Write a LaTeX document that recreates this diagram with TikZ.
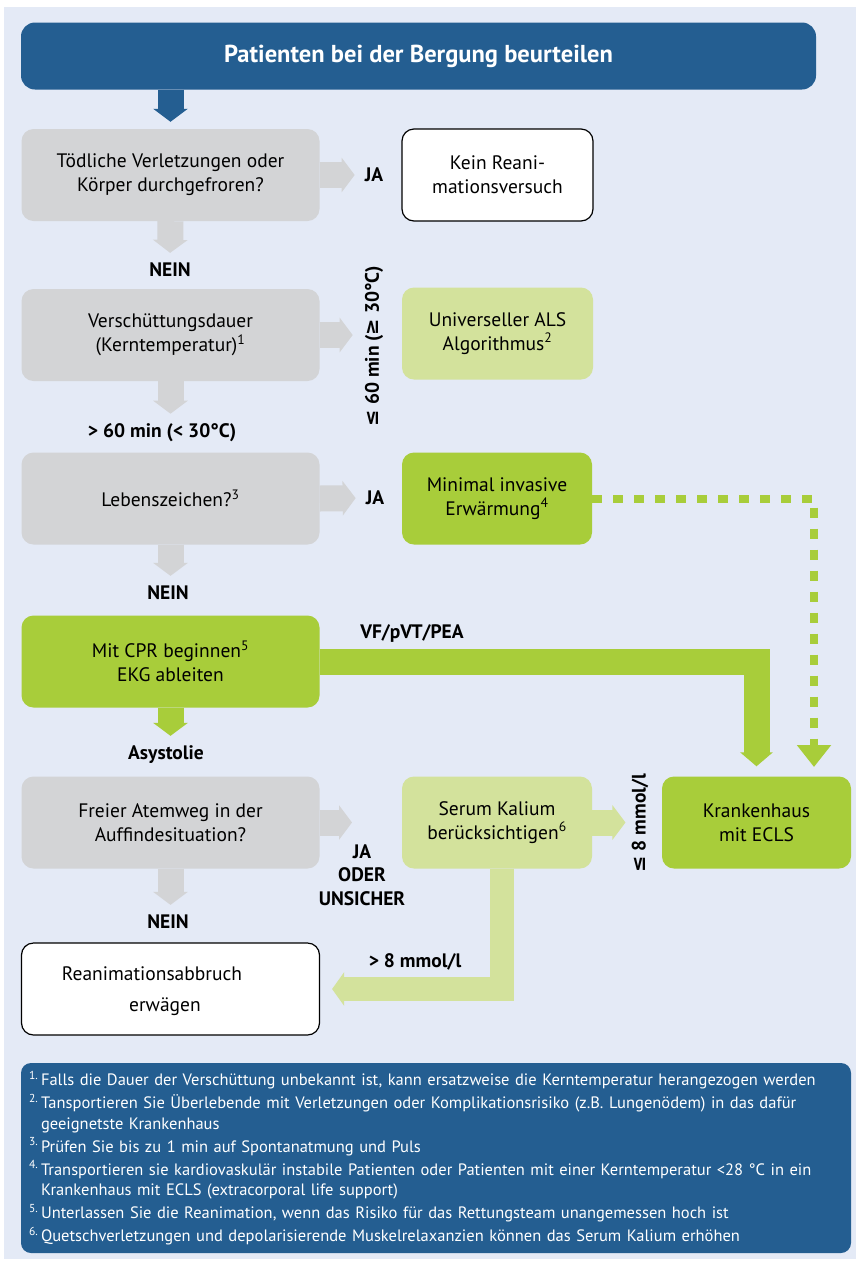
\documentclass[tikz,border=0pt]{standalone}
\usepackage{fontspec}
\setmainfont{PT Sans}
\newfontfamily\symfont{DejaVu Sans}
\usetikzlibrary{arrows.meta}

\definecolor{bgblue}{HTML}{E4EAF6}
\definecolor{darkblue}{HTML}{245E91}
\definecolor{boxgray}{HTML}{D3D4D6}
\definecolor{boxgreen}{HTML}{A8CD3A}
\definecolor{lightgreen}{HTML}{D3E29C}

\newcommand{\fnum}[1]{\textsuperscript{#1.}\,}
\newcommand{\lesym}{{\symfont\bfseries ≤}}
\newcommand{\gesym}{{\symfont\bfseries ≥}}

\begin{document}
\begin{tikzpicture}[x=1pt, y=-1pt,
  box/.style={rounded corners=12pt, minimum height=92pt, inner sep=0pt, align=center,
    font=\fontsize{19.5}{24}\selectfont},
  graybox/.style={box, fill=boxgray, minimum width=298pt},
  greenbox/.style={box, fill=boxgreen},
  lightbox/.style={box, fill=lightgreen},
  whitebox/.style={box, fill=white, draw=black, line width=1.2pt},
  lab/.style={inner sep=0pt, align=center, font=\fontsize{19.5}{23.5}\selectfont\bfseries},
  fatarrow/.style={line width=26pt, -{Triangle[length=13pt,width=34pt]}},
  tolab/.style={shorten >=10pt}]
  \useasboundingbox (0,0) rectangle (856,1262);
  \fill[bgblue] (4,7) rectangle (856,1259);

  % header
  \node[box, fill=darkblue, text=white, minimum width=795pt, minimum height=67pt,
    rounded corners=14pt, font=\fontsize{24.5}{26}\selectfont\bfseries] (title) at (418.5,56)
    {Patienten bei der Bergung beurteilen};

  % boxes
  \node[graybox] (q1) at (170.5,175) {Tödliche Verletzungen oder\\Körper durchgefroren?};
  \node[whitebox, minimum width=191pt] (kein) at (497.5,175) {Kein Reani-\\mationsversuch};
  \node[graybox] (q2) at (170.5,335) {Verschüttungsdauer\\(Kerntemperatur)\textsuperscript{1}};
  \node[lightbox, minimum width=191pt] (als) at (497.5,333.5) {Universeller ALS\\Algorithmus\textsuperscript{2}};
  \node[graybox] (q3) at (170.5,498.5) {Lebenszeichen?\textsuperscript{3}};
  \node[greenbox, minimum width=190pt] (warm) at (497,498.5) {Minimal invasive\\Erwärmung\textsuperscript{4}};
  \node[greenbox, minimum width=298pt] (cpr) at (170.5,661.5) {Mit CPR beginnen\textsuperscript{5}\\EKG ableiten};
  \node[graybox] (q4) at (170.5,822.5) {Freier Atemweg in der\\Auffindesituation?};
  \node[lightbox, minimum width=190pt] (kalium) at (497,822.5) {Serum Kalium\\berücksichtigen\textsuperscript{6}};
  \node[greenbox, minimum width=189pt] (ecls) at (756.5,822.5) {Krankenhaus\\mit ECLS};
  \node[whitebox, minimum width=298pt] (stop) at (170.5,989) {};
  \node[inner sep=0pt, align=center, font=\fontsize{19.5}{31}\selectfont] (stoptext) at (152,991)
    {Reanimationsabbruch\\\hspace*{26pt}erwägen};

  % labels
  \node[lab] (ja1) at (374,175) {JA};
  \node[lab] (nein1) at (170,270) {NEIN};
  \node[lab, rotate=90] (le60) at (374,346) {\lesym{} 60 min (\gesym{} 30°C)};
  \node[lab] (gt60) at (162,433) {> 60 min (< 30°C)};
  \node[lab] (ja2) at (375,498) {JA};
  \node[lab] (nein2) at (168,593) {NEIN};
  \node[lab] (vf) at (412,633) {VF/pVT/PEA};
  \node[lab] (asys) at (166,755) {Asystolie};
  \node[lab] (jaoder) at (362,875) {JA\\ODER\\UNSICHER};
  \node[lab, rotate=90] (le8) at (640,823) {\lesym{} 8 mmol/l};
  \node[lab] (nein3) at (168,922) {NEIN};
  \node[lab] (gt8) at (415,962) {> 8 mmol/l};
  \coordinate (q4tip) at (352,822.5);
  \coordinate (dottip) at (814,767);

  % arrows
  \draw[fatarrow, darkblue, shorten >=7pt] (title.south -| q1) -- (q1.north);
  \draw[fatarrow, boxgray, tolab] (q1.east) -- (ja1.west);
  \draw[fatarrow, boxgray, tolab] (q1.south) -- (nein1.north);
  \draw[fatarrow, boxgray, shorten >=12pt] (q2.east) -- (q2.east -| le60.north);
  \draw[fatarrow, boxgray, tolab] (q2.south) -- (gt60.north -| q2);
  \draw[fatarrow, boxgray, tolab] (q3.east) -- (ja2.west);
  \draw[fatarrow, boxgray, tolab] (q3.south) -- (nein2.north -| q3);
  \draw[fatarrow, boxgreen, tolab] (cpr.south) -- (asys.north -| cpr);
  \draw[fatarrow, boxgreen, -{Triangle[length=14pt,width=32pt]}] (cpr.east) -| ([yshift=10pt]ecls.north);
  \draw[boxgreen, line width=8pt, dash pattern=on 10pt off 11pt, -{Triangle[length=22pt,width=33pt]}]
    (warm.east) -| (dottip);
  \draw[fatarrow, boxgray] (q4.east) -- (q4tip);
  \draw[fatarrow, boxgray, tolab] (q4.south) -- (nein3.north -| q4);
  \draw[fatarrow, lightgreen, shorten >=6pt] (kalium.east) -- (kalium.east -| le8.north);
  \draw[fatarrow, lightgreen, line width=24pt, -{Triangle[length=12pt,width=33pt]}]
    ([xshift=5pt]kalium.south) |- ([xshift=12pt]stop.east);

  % footnotes
  \node[fill=darkblue, rounded corners=10pt, text=white, minimum height=190pt,
    text width=814pt, inner xsep=8pt, inner ysep=0pt, align=left,
    font=\fontsize{16.5}{20.5}\selectfont] (notes) at (436,1158)
    {\fnum{1}Falls die Dauer der Verschüttung unbekannt ist, kann ersatzweise die Kerntemperatur herangezogen werden\\[2.5pt]
     \fnum{2}Tansportieren Sie Überlebende mit Verletzungen oder Komplikationsrisiko (z.B. Lungenödem) in das dafür\\
     \phantom{\fnum{2}}geeignetste Krankenhaus\\[2.5pt]
     \fnum{3}Prüfen Sie bis zu 1 min auf Spontanatmung und Puls\\[2.5pt]
     \fnum{4}Transportieren sie kardiovaskulär instabile Patienten oder Patienten mit einer Kerntemperatur <28 °C in ein\\
     \phantom{\fnum{4}}Krankenhaus mit ECLS (extracorporal life support)\\[2.5pt]
     \fnum{5}Unterlassen Sie die Reanimation, wenn das Risiko für das Rettungsteam unangemessen hoch ist\\[2.5pt]
     \fnum{6}Quetschverletzungen und depolarisierende Muskelrelaxanzien können das Serum Kalium erhöhen};
\end{tikzpicture}
\end{document}
